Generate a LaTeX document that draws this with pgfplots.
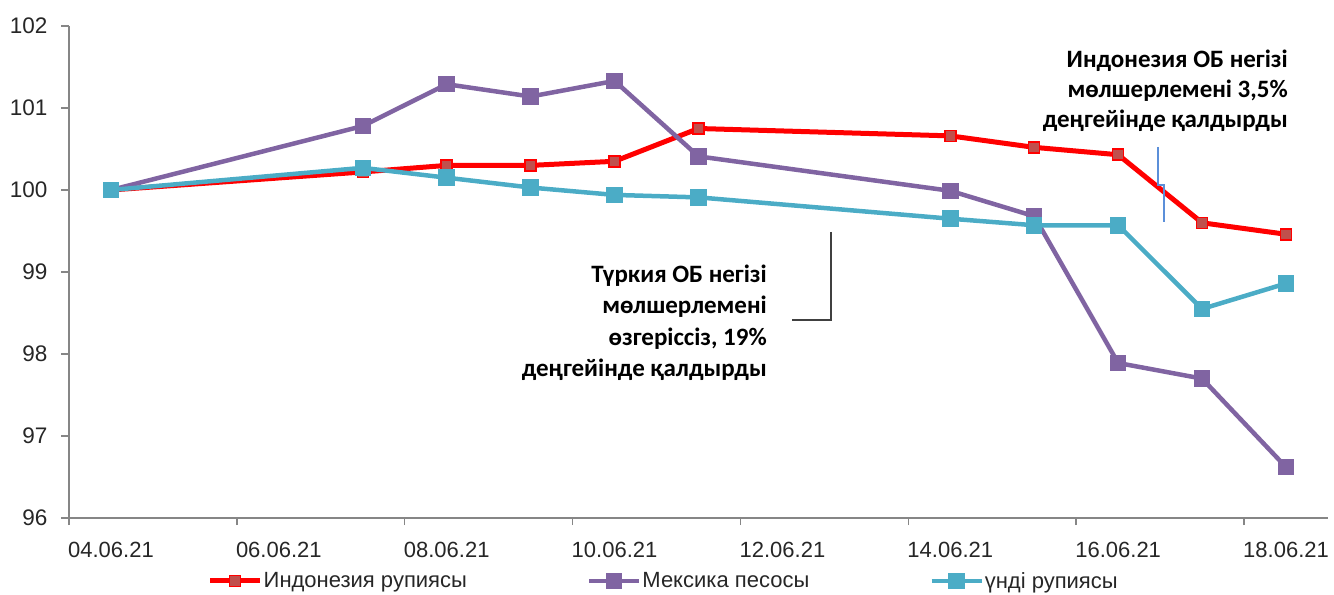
\documentclass[border=0pt]{standalone}
\usepackage{pgfplots}
\pgfplotsset{compat=1.18}
\usepackage{fontspec}
\setmainfont{Liberation Sans}
\newfontfamily\annfont{Carlito}
\definecolor{indred}{HTML}{FF0000}
\definecolor{indfill}{HTML}{C0504D}
\definecolor{mexpurple}{HTML}{8064A2}
\definecolor{indteal}{HTML}{4BACC6}
\definecolor{axisgray}{HTML}{868686}
\definecolor{callblue}{HTML}{5B8FD9}
\definecolor{callgray}{HTML}{404040}
\definecolor{labelc}{HTML}{262626}
\begin{document}
\begin{tikzpicture}
\begin{axis}[
  at={(69bp,77bp)}, anchor=south west,
  width=1259bp, height=492bp, scale only axis,
  xmin=3.5, xmax=18.5, ymin=96, ymax=102,
  axis x line*=bottom, axis y line*=left,
  axis line style={axisgray, line width=1.5bp},
  ytick={96,97,...,102},
  xtick={4,6,...,18},
  xticklabels={04.06.21,06.06.21,08.06.21,10.06.21,12.06.21,14.06.21,16.06.21,18.06.21},
  minor xtick={3.5,5.5,...,17.5},
  tick align=outside,
  major tick length=8bp, minor tick length=7bp,
  every major x tick/.append style={draw=none},
  tick style={axisgray, line width=1.5bp},
  ticklabel style={font=\fontsize{22bp}{26bp}\selectfont, text=labelc},
  xticklabel style={yshift=-13bp},
  yticklabel style={xshift=-10bp, font=\fontsize{22.5bp}{26bp}\selectfont},
  /pgf/number format/assume math mode=true,
  clip=false,
  legend columns=3,
  legend image code/.code={\draw[mark repeat=2,mark phase=2,#1] plot coordinates {(0bp,0bp) (25bp,0bp) (50bp,0bp)};},
  legend style={draw=none, fill=none, inner sep=0pt, at={(0.11,-0.128)}, anchor=west,
    font=\fontsize{22bp}{26bp}\selectfont, text=labelc,
    nodes={inner sep=1bp},
    /tikz/every odd column/.append style={column sep=0bp},
    /tikz/every even column/.append style={column sep=119bp},
    cells={anchor=west}},
]
\addplot[color=indred, line width=5bp, mark=square*, mark size=5.5bp,
  mark options={fill=indfill, draw=indred, line width=1.5bp}] coordinates {
 (4,100) (7,100.22) (8,100.30) (9,100.30) (10,100.35) (11,100.75)
 (14,100.66) (15,100.52) (16,100.43) (17,99.60) (18,99.46)};
\addlegendentry{Индонезия рупиясы}
\addplot[color=mexpurple, line width=4.5bp, mark=square*, mark size=6bp,
  mark options={fill=mexpurple, draw=none}] coordinates {
 (4,100) (7,100.78) (8,101.29) (9,101.14) (10,101.33) (11,100.41)
 (14,99.99) (15,99.68) (16,97.89) (17,97.70) (18,96.62)};
\addlegendentry{Мексика песосы}
\addplot[color=indteal, line width=4.5bp, mark=square*, mark size=6bp,
  mark options={fill=indteal, draw=none}] coordinates {
 (4,100) (7,100.27) (8,100.15) (9,100.03) (10,99.94) (11,99.91)
 (14,99.65) (15,99.57) (16,99.57) (17,98.55) (18,98.86)};
\addlegendentry{үнді рупиясы}
\end{axis}
\draw[callgray, line width=1.5bp] (831bp,363bp) -- (831bp,275bp) -- (792bp,275bp);
\draw[callblue, line width=1.5bp] (1158bp,448bp) -- (1158bp,410bp) -- (1164bp,410bp) -- (1164bp,373bp);
\begin{scope}[every node/.style={anchor=base east, inner sep=0pt, font=\annfont\bfseries\fontsize{25bp}{29bp}\selectfont, text=black}]
\node at (1288bp,527bp) {Индонезия ОБ негізі};
\node at (1288bp,497bp) {мөлшерлемені 3,5\%};
\node at (1288bp,467bp) {деңгейінде қалдырды};
\node at (767bp,312bp) {Түркия ОБ негізі};
\node at (767bp,281bp) {мөлшерлемені};
\node at (767bp,249bp) {өзгеріссіз, 19\%};
\node at (767bp,218bp) {деңгейінде қалдырды};
\end{scope}
\pgfresetboundingbox
\path[use as bounding box] (0bp,0bp) rectangle (1334bp,595bp);
\end{tikzpicture}
\end{document}
